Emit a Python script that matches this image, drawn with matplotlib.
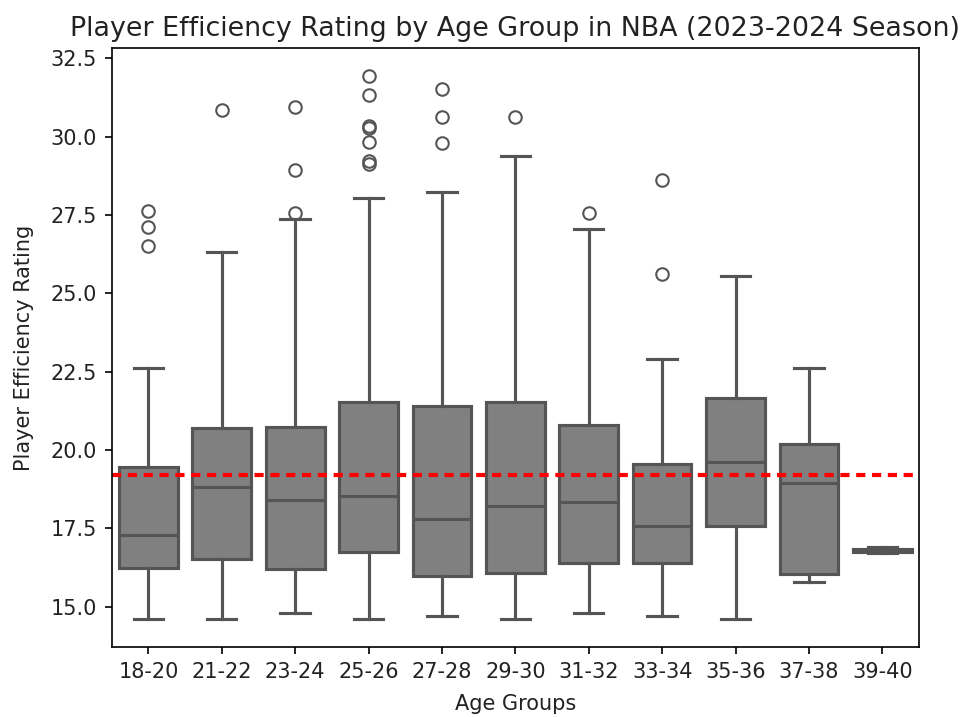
import matplotlib
matplotlib.use("Agg")
import matplotlib.pyplot as plt

# Player Efficiency Rating summary per age group
age_groups = ["18-20", "21-22", "23-24", "25-26", "27-28", "29-30",
              "31-32", "33-34", "35-36", "37-38", "39-40"]
whisker_low = [14.60, 14.60, 14.81, 14.60, 14.70, 14.60, 14.81, 14.70, 14.60, 15.78, 16.70]
q1 = [16.24, 16.51, 16.19, 16.75, 15.98, 16.08, 16.38, 16.40, 17.58, 16.03, 16.75]
median = [17.29, 18.83, 18.40, 18.54, 17.80, 18.22, 18.33, 17.58, 19.61, 18.94, 16.80]
q3 = [19.47, 20.69, 20.74, 21.54, 21.41, 21.52, 20.80, 19.55, 21.67, 20.18, 16.85]
whisker_high = [22.61, 26.33, 27.37, 28.03, 28.24, 29.38, 27.05, 22.90, 25.55, 22.61, 16.90]
outliers = [
    [27.64, 27.13, 26.51],
    [30.85],
    [30.96, 28.94, 27.55],
    [31.95, 31.33, 30.34, 30.27, 29.84, 29.23, 29.12],
    [31.52, 30.64, 29.81],
    [30.64],
    [27.55],
    [28.62, 25.62],
    [],
    [],
    [],
]
overall_mean = 19.19

stats = []
for i, name in enumerate(age_groups):
    stats.append({
        "label": name,
        "whislo": whisker_low[i],
        "q1": q1[i],
        "med": median[i],
        "q3": q3[i],
        "whishi": whisker_high[i],
        "fliers": outliers[i],
    })

fig = plt.figure(figsize=(965 / 150, 717 / 150), dpi=150)
ax = fig.add_axes([111.7 / 965, 1 - 647.3 / 717, (919 - 111.7) / 965, (647.3 - 48.3) / 717])

line_col = "#555555"
lw = 1.5
ax.bxp(
    stats,
    positions=range(len(age_groups)),
    widths=0.8,
    patch_artist=True,
    boxprops=dict(facecolor="#808080", edgecolor=line_col, linewidth=lw),
    medianprops=dict(color=line_col, linewidth=lw),
    whiskerprops=dict(color=line_col, linewidth=lw),
    capprops=dict(color=line_col, linewidth=lw),
    flierprops=dict(marker="o", markersize=6, markerfacecolor="none",
                    markeredgecolor=line_col, markeredgewidth=1.0),
    capwidths=0.4,
)

ax.axhline(overall_mean, color="red", linewidth=2, dashes=(2.2, 1.6))

ax.set_xlim(-0.5, len(age_groups) - 0.5)
ax.set_ylim(13.70, 32.82)
ax.set_yticks([15.0, 17.5, 20.0, 22.5, 25.0, 27.5, 30.0, 32.5])
ax.set_xticks(range(len(age_groups)))
ax.set_xticklabels(age_groups)
ax.tick_params(labelcolor="#222222")

ax.set_title("Player Efficiency Rating by Age Group in NBA (2023-2024 Season)",
             fontsize=12.9, color="#222222")
ax.set_xlabel("Age Groups", labelpad=6, color="#222222")
ax.set_ylabel("Player Efficiency Rating", labelpad=8, color="#222222")

fig.savefig("out.png", dpi=150)
